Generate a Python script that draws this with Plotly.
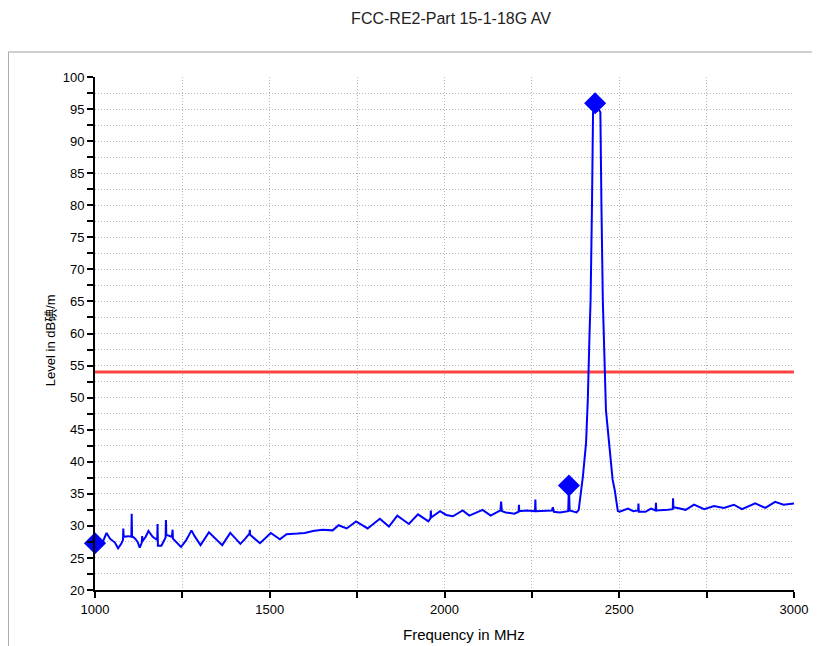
import plotly.graph_objects as go

freq_mhz = [
    1000, 1003, 1006, 1010, 1015, 1020, 1033, 1043, 1057, 1066, 1075, 1080, 1081, 1082,
    1095, 1104, 1105, 1106, 1115, 1122, 1128, 1134, 1135, 1136, 1145, 1153, 1165, 1178,
    1179, 1180, 1190, 1202, 1203, 1204, 1220, 1222, 1223, 1246, 1260, 1276, 1285, 1302,
    1326, 1345, 1364, 1387, 1400, 1416, 1430, 1442, 1443, 1444, 1472, 1490, 1503, 1529,
    1548, 1580, 1600, 1624, 1650, 1680, 1697, 1720, 1747, 1780, 1815, 1841, 1865, 1898,
    1924, 1954, 1960, 1961, 1962, 1987, 2005, 2024, 2043, 2052, 2071, 2109, 2132, 2160,
    2162, 2164, 2175, 2200, 2212, 2213, 2214, 2235, 2259, 2260, 2261, 2307, 2310, 2313,
    2330, 2354, 2356, 2358, 2378, 2384, 2388, 2396, 2405, 2410, 2415, 2418, 2422, 2425,
    2431, 2436, 2438, 2442, 2446, 2449, 2453, 2462, 2472, 2481, 2487, 2491, 2496, 2501,
    2525, 2540, 2554, 2555, 2556, 2575, 2591, 2604, 2605, 2606, 2639, 2653, 2654, 2655,
    2667, 2690, 2714, 2743, 2771, 2799, 2828, 2851, 2889, 2918, 2946, 2970, 3000,
]
level_db = [
    27.3, 26.4, 28.0, 27.0, 27.6, 27.2, 28.9, 28.0, 27.4, 26.5, 27.2, 27.8, 29.6, 28.3,
    28.4, 28.3, 31.9, 28.4, 28.0, 27.5, 26.6, 27.4, 28.4, 27.6, 28.3, 29.2, 28.3, 27.8,
    30.3, 26.9, 26.9, 28.2, 30.9, 28.6, 28.3, 29.4, 28.0, 26.7, 27.7, 29.3, 28.4, 27.0,
    29.0, 28.0, 27.0, 28.9, 28.2, 27.2, 28.0, 28.8, 29.4, 28.6, 27.3, 28.2, 28.9, 27.9,
    28.7, 28.8, 28.9, 29.2, 29.4, 29.3, 30.1, 29.6, 30.7, 29.6, 31.1, 29.9, 31.6, 30.3,
    31.8, 30.7, 31.2, 32.4, 31.3, 32.3, 31.7, 31.5, 32.2, 32.4, 31.6, 32.5, 31.6, 32.4,
    33.8, 32.3, 32.1, 31.9, 32.2, 33.3, 32.3, 32.4, 32.3, 34.1, 32.3, 32.4, 32.9, 32.2,
    32.1, 32.3, 36.3, 32.4, 32.1, 32.5, 34.0, 37.7, 42.9, 49.6, 60.0, 65.2, 80.0, 94.4,
    95.8, 94.6, 95.3, 94.9, 94.5, 80.0, 65.2, 48.0, 41.8, 37.2, 35.6, 34.0, 32.3, 32.2,
    32.7, 32.3, 32.4, 33.5, 32.2, 32.2, 32.7, 32.4, 33.6, 32.4, 32.5, 32.6, 34.3, 32.9,
    32.8, 32.5, 33.3, 32.6, 33.1, 32.8, 33.3, 32.6, 33.5, 32.8, 33.75, 33.3, 33.5,
]

# Peak markers
marker_freq = [1000, 2356, 2431]
marker_level = [27.3, 36.3, 95.9]

# AV limit line
limit_freq = [1000, 3000]
limit_level = [54, 54]

fig = go.Figure()

fig.add_trace(go.Scatter(
    x=limit_freq, y=limit_level, mode='lines',
    line=dict(color='#FF4545', width=3),
    showlegend=False, hoverinfo='skip'
))

fig.add_trace(go.Scatter(
    x=freq_mhz, y=level_db, mode='lines',
    line=dict(color='#0000FF', width=2),
    showlegend=False
))

fig.add_trace(go.Scatter(
    x=marker_freq, y=marker_level, mode='markers',
    marker=dict(symbol='diamond', size=17, color='#0000FF'),
    cliponaxis=False, showlegend=False
))

grid = dict(showgrid=True, gridcolor='#B8B8B8', griddash='1px,2px', gridwidth=1)

# the page body adds an 8px offset, so the figure is sized 812x638
fig.update_layout(
    width=812, height=638,
    margin=dict(l=87, r=23, t=69, b=56),
    paper_bgcolor='white',
    plot_bgcolor='white',
    font=dict(family='Liberation Sans, Arial, sans-serif', size=13, color='black'),
    title=dict(
        text='FCC-RE2-Part 15-1-18G AV',
        x=443 / 812, xanchor='center', y=1 - 10 / 638, yanchor='middle',
        font=dict(size=16, color='#222222')
    ),
    xaxis=dict(
        range=[1000, 3000], dtick=500, tick0=1000,
        showline=True, linecolor='black', linewidth=2,
        ticks='outside', ticklen=6, tickwidth=2, tickcolor='black',
        zeroline=False,
        minor=dict(dtick=250, ticks='outside', ticklen=6, tickwidth=2,
                   tickcolor='black', showgrid=True, gridcolor='#B8B8B8', griddash='1px,2px'),
        **grid
    ),
    yaxis=dict(
        range=[20, 100], dtick=5, tick0=20,
        showline=True, linecolor='black', linewidth=2,
        ticks='outside', ticklen=6, tickwidth=2, tickcolor='black',
        zeroline=False,
        minor=dict(dtick=2.5, ticks='outside', ticklen=6, tickwidth=2,
                   tickcolor='black', showgrid=True, gridcolor='#B8B8B8', griddash='1px,2px'),
        **grid
    ),
    annotations=[
        dict(text='Frequency in MHz', xref='paper', yref='paper',
             x=(466 - 95) / 702, y=(590 - 634) / 513, xanchor='center', yanchor='middle',
             showarrow=False, font=dict(size=15)),
        dict(text='Level in dB碘/m', xref='paper', yref='paper',
             x=(50 - 95) / 702, y=(590 - 340) / 513, xanchor='center', yanchor='middle',
             textangle=-90, showarrow=False,
             font=dict(size=13, family='Liberation Sans, Noto Sans CJK SC, sans-serif')),
    ],
    shapes=[
        dict(type='rect', xref='paper', yref='paper',
             x0=(8 - 95) / 702, x1=(830 - 95) / 702,
             y0=(590 - 660) / 513, y1=(590 - 52) / 513,
             line=dict(color='#A0A0A0', width=1), layer='below'),
    ],
)

fig.write_html('out.html')
